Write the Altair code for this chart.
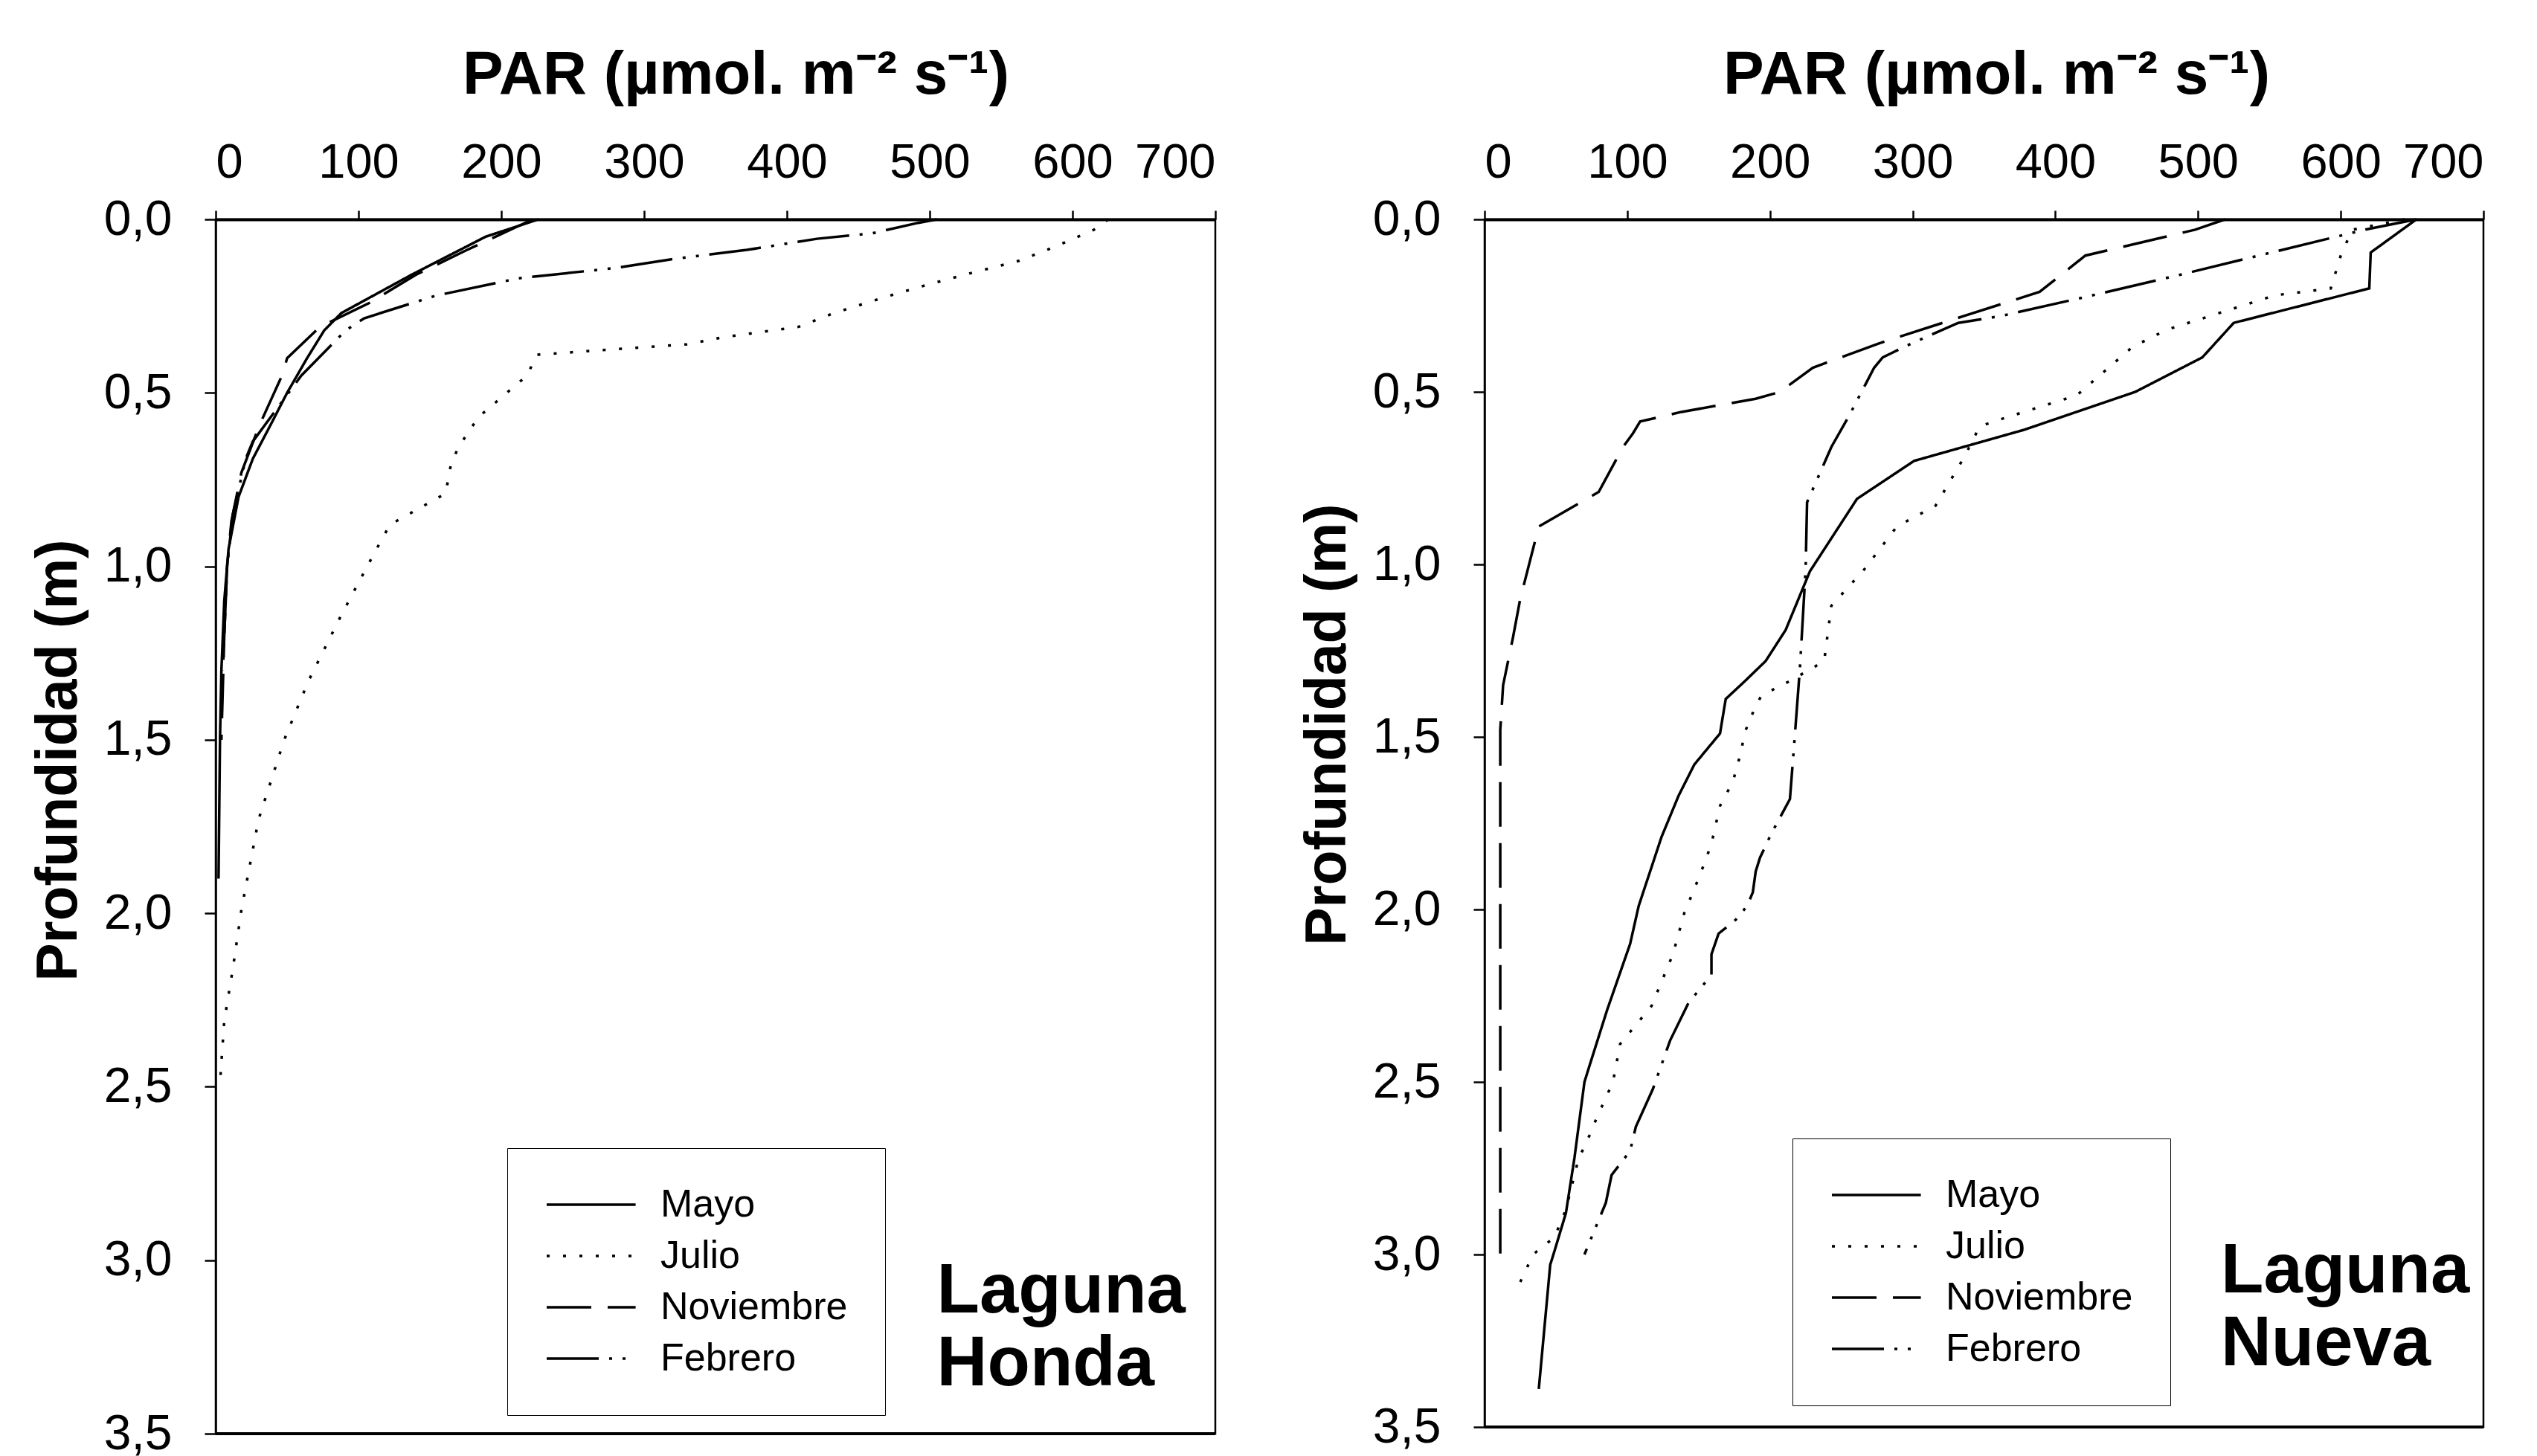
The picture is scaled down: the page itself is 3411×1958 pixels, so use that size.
import altair as alt
import pandas as pd

meses = ["Mayo", "Julio", "Noviembre", "Febrero"]
x_ticks = [0, 100, 200, 300, 400, 500, 600, 700]
y_ticks = [0.0, 0.5, 1.0, 1.5, 2.0, 2.5, 3.0, 3.5]

# Laguna Honda
lh_mayo_depth = [0, 0.05, 0.16, 0.27, 0.32, 0.40, 0.50, 0.58, 0.69, 0.80, 0.95, 1.10, 1.30, 1.50, 1.90]
lh_mayo_par = [226, 189, 137, 88, 76, 64, 50, 40, 26, 16, 9, 6, 4, 3, 2]
lh_julio_depth = [0, 0.03, 0.08, 0.12, 0.16, 0.19, 0.22, 0.27, 0.31, 0.34, 0.36, 0.39, 0.45, 0.57,
                  0.65, 0.70, 0.79, 0.88, 0.97, 1.14, 1.33, 1.50, 1.73, 1.99, 2.16, 2.31, 2.49]
lh_julio_par = [625, 615, 587, 562, 524, 497, 472, 433, 408, 355, 330, 225, 218, 184,
                171, 165, 161, 122, 110, 88, 65, 48, 30, 18, 12, 6, 3]
lh_nov_depth = [0, 0.09, 0.16, 0.24, 0.31, 0.40, 0.445, 0.59, 0.73, 0.87, 1.0, 1.2, 1.5]
lh_nov_par = [222, 175, 140, 108, 73, 50, 47, 31, 18, 11, 8, 6, 4]
lh_feb_depth = [0, 0.01, 0.04, 0.056, 0.088, 0.115, 0.14, 0.17, 0.22, 0.285, 0.32, 0.45, 0.64,
                0.69, 0.85, 1.0, 1.3]
lh_feb_par = [505, 492, 460, 421, 372, 319, 280, 212, 154, 104, 91, 60, 26, 21, 12, 8, 5]

# Laguna Nueva
ln_mayo_depth = [0, 0.096, 0.20, 0.30, 0.40, 0.50, 0.61, 0.70, 0.81, 1.02, 1.19, 1.28, 1.34, 1.39,
                 1.49, 1.58, 1.67, 1.79, 1.99, 2.10, 2.29, 2.46, 2.50, 2.72, 2.88, 2.99, 3.03, 3.39]
ln_mayo_par = [653, 621, 620, 525, 503, 456, 378, 301, 261, 228, 211, 197, 182, 169,
               165, 147, 136, 124, 108, 102, 86, 73, 70, 63, 57, 49, 46, 38]
ln_julio_depth = [0, 0.03, 0.105, 0.20, 0.22, 0.32, 0.37, 0.51, 0.575, 0.60, 0.69, 0.83, 0.89, 1.015,
                  1.12, 1.28, 1.30, 1.34, 1.38, 1.42, 1.49, 1.54, 1.63, 1.70, 1.81, 1.90, 2.01, 2.13,
                  2.28, 2.39, 2.50, 2.60, 2.68, 2.72, 2.87, 2.95, 3.00, 3.08]
ln_julio_par = [645, 608, 600, 593, 554, 478, 454, 415, 365, 347, 336, 316, 289, 266,
                243, 238, 230, 213, 194, 189, 182, 180, 174, 165, 159, 151, 140, 132,
                117, 95, 90, 79, 71, 66, 57, 49, 34, 25]
ln_nov_depth = [0, 0.03, 0.105, 0.21, 0.28, 0.36, 0.41, 0.43, 0.50, 0.52, 0.558, 0.586, 0.62, 0.66,
                0.79, 0.89, 1.10, 1.21, 1.35, 1.48, 3.0]
ln_nov_par = [519, 498, 421, 389, 336, 276, 243, 230, 207, 190, 138, 109, 104, 97,
              80, 38, 25, 20, 13, 11, 11]
ln_feb_depth = [0, 0.03, 0.16, 0.225, 0.28, 0.30, 0.36, 0.40, 0.43, 0.565, 0.66, 0.82, 1.015, 1.30,
                1.52, 1.68, 1.78, 1.85, 1.89, 1.95, 1.99, 2.03, 2.07, 2.13, 2.19, 2.27, 2.38, 2.52,
                2.63, 2.70, 2.77, 2.85, 3.0]
ln_feb_par = [653, 617, 488, 421, 362, 332, 299, 279, 273, 256, 243, 226, 225, 221,
              217, 214, 201, 193, 190, 188, 184, 176, 164, 159, 159, 143, 130, 118,
              106, 102, 89, 85, 70]


def make_df(series):
    rows = []
    for mes, depths, pars in series:
        for i, (d, p) in enumerate(zip(depths, pars)):
            rows.append({"mes": mes, "depth": d, "par": p, "idx": i})
    return pd.DataFrame(rows)


df_lh = make_df([("Mayo", lh_mayo_depth, lh_mayo_par), ("Julio", lh_julio_depth, lh_julio_par),
                 ("Noviembre", lh_nov_depth, lh_nov_par), ("Febrero", lh_feb_depth, lh_feb_par)])
df_ln = make_df([("Mayo", ln_mayo_depth, ln_mayo_par), ("Julio", ln_julio_depth, ln_julio_par),
                 ("Noviembre", ln_nov_depth, ln_nov_par), ("Febrero", ln_feb_depth, ln_feb_par)])

dashes = [[1, 0], [4, 18], [60, 22], [70, 14, 4, 14, 4, 14]]
FONT = "Liberation Sans"


def panel(df, label, w, h, leg_x, leg_y, ytitle_y, xtitle_x, text_x, text_y):
    x_scale = alt.Scale(domain=[0, 700], nice=False, zero=True)
    y_scale = alt.Scale(domain=[0, 3.5], reverse=True, nice=False, zero=True)
    x_axis = alt.Axis(orient="top", values=x_ticks, title="PAR (µmol. m⁻² s⁻¹)",
                      labelFontSize=65, labelPadding=31, tickSize=12, tickWidth=2.5,
                      domainWidth=4, titleFontSize=82, titleFontWeight="bold",
                      titleY=-195, titleX=xtitle_x, titleAlign="center",
                      titleBaseline="middle", labelFont=FONT, titleFont=FONT,
                      labelColor="black", titleColor="black", domainColor="black",
                      tickColor="black", grid=False)
    y_axis = alt.Axis(values=y_ticks,
                      labelExpr="replace(format(datum.value, '.1f'), '.', ',')",
                      title="Profundidad (m)", labelFontSize=66, labelPadding=44,
                      tickSize=15, tickWidth=2.5, domainWidth=2.5,
                      titleFontSize=77, titleFontWeight="bold", titleX=-211,
                      titleY=ytitle_y, titleAngle=-90, titleAlign="center",
                      titleBaseline="middle", labelFont=FONT, titleFont=FONT,
                      labelColor="black", titleColor="black", domainColor="black",
                      tickColor="black", grid=False)
    lines = alt.Chart(df).mark_line(color="black", strokeWidth=3.5).encode(
        x=alt.X("par:Q", scale=x_scale, axis=x_axis),
        y=alt.Y("depth:Q", scale=y_scale, axis=y_axis),
        strokeDash=alt.StrokeDash("mes:N", scale=alt.Scale(domain=meses, range=dashes),
                                  legend=alt.Legend(orient="none", legendX=leg_x, legendY=leg_y,
                                                    title=None, padding=50, rowPadding=17,
                                                    strokeColor="black", fillColor="white",
                                                    symbolType="M-1,0H4.2", symbolSize=2116,
                                                    symbolStrokeWidth=3.5, symbolStrokeColor="black",
                                                    labelOffset=104, labelFontSize=52,
                                                    labelFont=FONT, labelColor="black",
                                                    labelLimit=400)),
        order=alt.Order("idx:Q"),
    )
    one = pd.DataFrame({"k": [0]})
    bottom = alt.Chart(one).mark_rule(color="black", strokeWidth=4).encode(
        x=alt.XDatum(0), x2=alt.X2Datum(700), y=alt.YDatum(3.5))
    text = alt.Chart(one).mark_text(text=label, align="left", baseline="middle", fontSize=94,
                                    fontWeight="bold", lineHeight=98, font=FONT,
                                    color="black").encode(
        x=alt.XDatum(text_x), y=alt.YDatum(text_y))
    return alt.layer(lines, bottom, text).properties(width=w, height=h)


left = panel(df_lh, ["Laguna", "Honda"], 1344, 1633, 392, 1249, 727, 699, 505, 3.09)
right = panel(df_ln, ["Laguna", "Nueva"], 1343, 1624, 414, 1236, 679, 688, 516, 3.05)

chart = alt.hconcat(left, right, spacing=106).resolve_scale(strokeDash="independent").properties(
    padding={"left": 30, "top": 49, "right": 5, "bottom": 5}
).configure(font=FONT, background="white").configure_view(stroke="black", strokeWidth=2.5)

chart.save("out.html", embed_options={"renderer": "svg", "actions": False})
